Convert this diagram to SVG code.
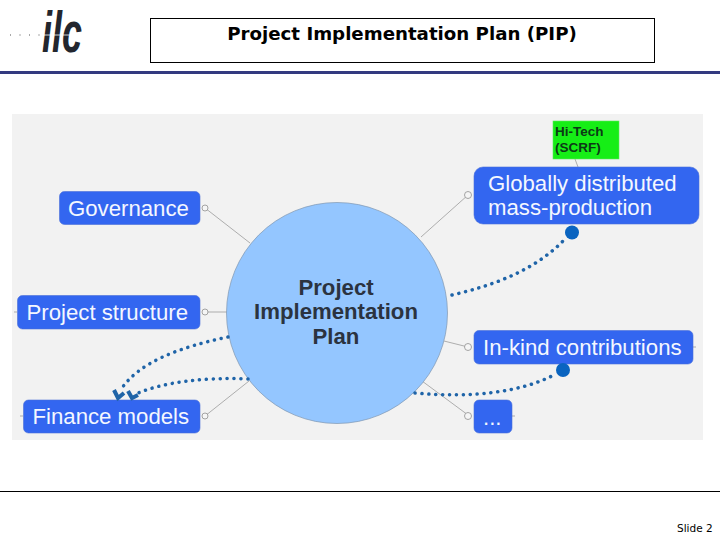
<svg xmlns="http://www.w3.org/2000/svg" width="720" height="540" viewBox="0 0 720 540">
<style>
.n{fill:#3366f0;stroke:#4a6fd8;stroke-width:.6}
.t{font-family:"Liberation Sans",Arial,sans-serif;font-size:22.200px;fill:#f4f7ff}
.c{font-family:"Liberation Sans",Arial,sans-serif;font-size:22.200px;font-weight:bold;fill:#2b3340;text-anchor:middle}
.l{stroke:#8f8f8f;stroke-width:.7;fill:none}
.o{fill:#f5f5f5;stroke:#8f8f8f;stroke-width:.8}
.d{stroke:#1f64a8;stroke-width:3.500;stroke-linecap:round;stroke-dasharray:.1 6.800;fill:none}
.h{stroke:#1f64a8;stroke-width:4;fill:none}
</style>
<rect width="720" height="540" fill="#fff"/>
<g id="logo">
<text x="42" y="52" font-family="Liberation Sans,Arial,sans-serif" font-size="58" font-weight="bold" font-style="italic" fill="#23262e" textLength="40" lengthAdjust="spacingAndGlyphs">ilc</text>
<path d="M10 35H44" stroke="#555" stroke-width="1.200" stroke-dasharray="1 8.500" fill="none"/>
<path d="M40 35H78" stroke="#fff" stroke-width=".8" fill="none"/>
</g>
<g id="title">
<rect x="150.500" y="18.500" width="504" height="44" fill="#fff" stroke="#000"/>
<text x="402" y="40" text-anchor="middle" font-family="DejaVu Sans,Verdana,sans-serif" font-size="18.200" font-weight="bold" fill="#000">Project Implementation Plan (PIP)</text>
</g>
<rect id="rule" x="0" y="71" width="720" height="3" fill="#333a80"/>
<rect id="panel" x="12" y="114" width="691" height="326" fill="#f2f2f2"/>
<g id="connectors">
<path class="l" d="M205 208L250 243M468 195L421 237M205 312H228M444 341L468 347M422 381L468 415M205 416L249 381M575 159L578 167M17 312H14M23 416H20M693 347H696M512 416H515"/>
<circle class="o" cx="205" cy="208" r="3"/>
<circle class="o" cx="205" cy="312" r="3"/>
<circle class="o" cx="205" cy="416" r="3"/>
<circle class="o" cx="468" cy="195" r="3.500"/>
<circle class="o" cx="468" cy="347" r="3.500"/>
<circle class="o" cx="468" cy="416" r="3.500"/>
</g>
<g id="plan">
<circle cx="337" cy="313" r="110.500" fill="#94c6ff" stroke="#7f97b0" stroke-width=".7"/>
<text class="c" x="336" y="295">Project</text>
<text class="c" x="336" y="319">Implementation</text>
<text class="c" x="336" y="344">Plan</text>
</g>
<g id="hitech">
<rect x="553" y="121" width="66" height="38" fill="#16ee16" stroke="#5fe85f" stroke-width=".6"/>
<text x="555" y="136" font-family="Liberation Sans,Arial,sans-serif" font-size="13.500" font-weight="bold" fill="#0c3a16">Hi-Tech</text>
<text x="555" y="152" font-family="Liberation Sans,Arial,sans-serif" font-size="13.500" font-weight="bold" fill="#0c3a16">(SCRF)</text>
</g>
<g id="governance"><rect class="n" x="59.500" y="191.500" width="140.500" height="33" rx="5"/><text class="t" x="68" y="215.500">Governance</text></g>
<g id="structure"><rect class="n" x="17.500" y="295.500" width="182.500" height="33.500" rx="5"/><text class="t" x="26.500" y="319.500">Project structure</text></g>
<g id="finance"><rect class="n" x="23.500" y="400" width="176.500" height="33" rx="5"/><text class="t" x="32.500" y="424">Finance models</text></g>
<g id="global"><rect class="n" x="474" y="167" width="225" height="57" rx="9"/><text class="t" x="488" y="191">Globally distributed</text><text class="t" x="488" y="215">mass-production</text></g>
<g id="inkind"><rect class="n" x="474" y="330.500" width="219" height="33.500" rx="5"/><text class="t" x="483" y="354.500">In-kind contributions</text></g>
<g id="more"><rect class="n" x="474" y="400" width="38" height="33" rx="5"/><text class="t" x="483" y="425">...</text></g>
<g id="links">
<path class="d" d="M452 295C495 285 535 270 564 240"/>
<circle cx="572" cy="232.500" r="7" fill="#0a64c0"/>
<path class="d" d="M415 393C470 398 520 393 556 374"/>
<circle cx="563" cy="370" r="7" fill="#0a64c0"/>
<path class="d" d="M228 337C180 347 140 362 122 388"/>
<path class="d" d="M248 379C205 377 165 382 138 393"/>
<path class="h" d="M114 390L118 398L124 393M128 391L132 398L138 395"/>
</g>
<path id="footer-rule" d="M0 491.500H720" stroke="#000"/>
<text id="slide" x="677" y="532" font-family="DejaVu Sans,Tahoma,sans-serif" font-size="10.500" fill="#000">Slide 2</text>
</svg>
